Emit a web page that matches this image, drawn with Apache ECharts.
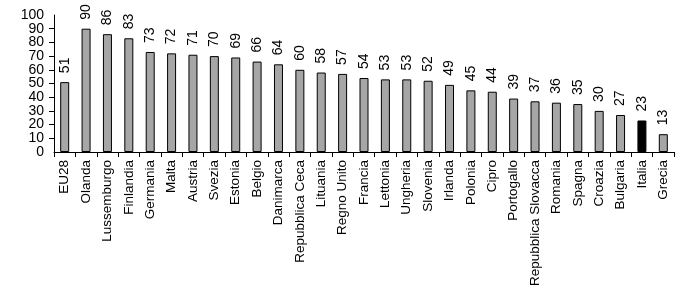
<!DOCTYPE html>
<html><head><meta charset="utf-8">
<script src="https://cdn.jsdelivr.net/npm/echarts@6/dist/echarts.min.js"></script>
<style>html,body{margin:0;padding:0;background:#fff}#c{width:700px;height:287px}</style>
</head><body><div id="c"></div>
<script>
const categories = ["EU28","Olanda","Lussemburgo","Finlandia","Germania","Malta","Austria","Svezia","Estonia","Belgio","Danimarca","Repubblica Ceca","Lituania","Regno Unito","Francia","Lettonia","Ungheria","Slovenia","Irlanda","Polonia","Cipro","Portogallo","Repubblica Slovacca","Romania","Spagna","Croazia","Bulgaria","Italia","Grecia"];
const values = [51,90,86,83,73,72,71,70,69,66,64,60,58,57,54,53,53,52,49,45,44,39,37,36,35,30,27,23,13];
const highlight = "Italia";
const yEnds = [0,100];

const chart = echarts.init(document.getElementById('c'), null, {renderer:'canvas'});
const font = '"Liberation Sans", Arial, sans-serif';
const yLabel = {color:'#000',fontSize:14,fontFamily:font,margin:10};
chart.setOption({
  animation:false,
  grid:{left:54,right:26,top:15,bottom:135,containLabel:false,outerBoundsMode:'none'},
  xAxis:{type:'category',data:categories,
    axisLine:{lineStyle:{color:'#000',width:1}},
    axisTick:{show:true,alignWithLabel:false,length:5,lineStyle:{color:'#000'}},
    axisLabel:{rotate:90,interval:0,color:'#000',fontSize:13.5,fontFamily:font,margin:8,hideOverlap:false}},
  yAxis:[
    {type:'value',min:0,max:100,interval:10,position:'left',
     axisLine:{show:true,lineStyle:{color:'#000'}},
     axisTick:{show:true,length:5,lineStyle:{color:'#000'}},
     splitLine:{show:false},
     axisLabel:Object.assign({showMinLabel:false,showMaxLabel:false},yLabel)},
    {type:'value',min:0,max:100,interval:10,position:'left',offset:0,
     axisLine:{show:false},axisTick:{show:false},splitLine:{show:false},
     axisLabel:Object.assign({showMinLabel:true,showMaxLabel:true,
       formatter:v=>yEnds.includes(v)?String(v):''},yLabel)}
  ],
  series:[{type:'bar',barWidth:9,yAxisIndex:0,
    data:values.map((v,i)=>({value:v,itemStyle:{color:categories[i]===highlight?'#000':'#a6a6a6'}})),
    itemStyle:{borderColor:'#000',borderWidth:1},
    label:{show:true,position:'top',rotate:90,align:'left',verticalAlign:'middle',distance:9,color:'#000',fontSize:14,fontFamily:font}}]
});
</script></body></html>
